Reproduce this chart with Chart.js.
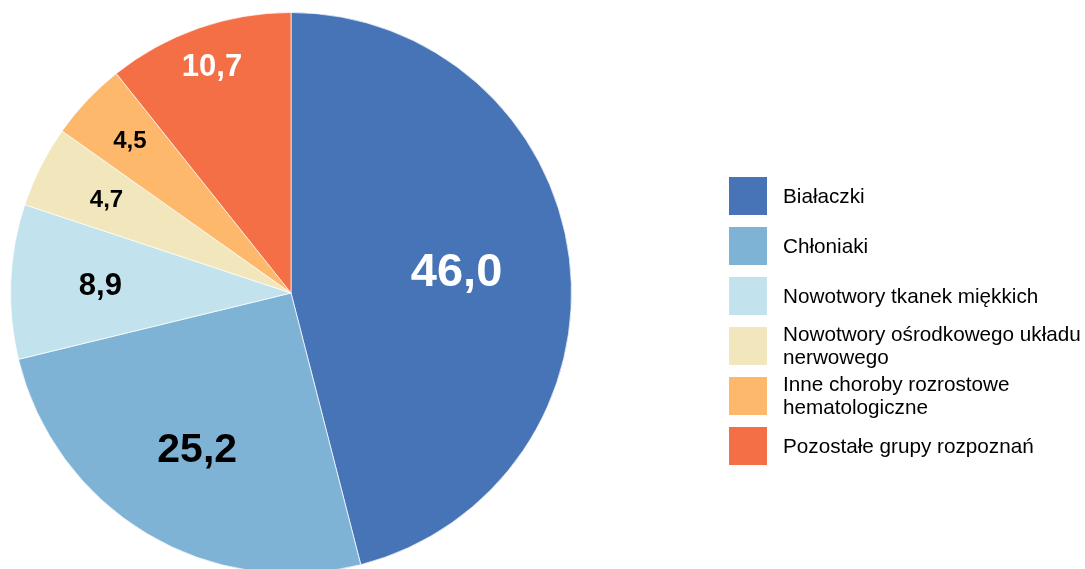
<!DOCTYPE html>
<html>
<head>
<meta charset="utf-8">
<script src="https://cdn.jsdelivr.net/npm/chart.js@4/dist/chart.umd.min.js"></script>
<style>
  html, body { margin: 0; padding: 0; background: #ffffff; }
  #wrap { position: relative; width: 1085px; height: 569px; overflow: hidden; }
  #c { position: absolute; left: 0; top: 0; }
</style>
</head>
<body>
<div id="wrap"><canvas id="c" width="1085" height="600"></canvas></div>
<script>
// ---- data ----
const categories = [
  "Białaczki",
  "Chłoniaki",
  "Nowotwory tkanek miękkich",
  "Nowotwory ośrodkowego układu nerwowego",
  "Inne choroby rozrostowe hematologiczne",
  "Pozostałe grupy rozpoznań"
];
const values = [46.0, 25.2, 8.9, 4.7, 4.5, 10.7];

// ---- styles ----
const sliceColors = ["#4674B7", "#7FB3D5", "#C2E3EE", "#F2E6BD", "#FDB86B", "#F46F45"];
const labelColors = ["#ffffff", "#000000", "#000000", "#000000", "#000000", "#ffffff"];
const labelSizes = [47, 41, 31, 24, 24, 31];
const labelRadiusFrac = [0.595, 0.65, 0.68, 0.737, 0.79, 0.854];

function fmt(v) { return v.toFixed(1).replace('.', ','); }

const sliceLabels = {
  id: 'sliceLabels',
  afterDatasetsDraw(chart) {
    const ctx = chart.ctx;
    const meta = chart.getDatasetMeta(0);
    ctx.save();
    ctx.textAlign = 'center';
    ctx.textBaseline = 'middle';
    meta.data.forEach((arc, i) => {
      const p = arc.getProps(['x', 'y', 'startAngle', 'endAngle', 'outerRadius'], true);
      const mid = (p.startAngle + p.endAngle) / 2;
      const r = p.outerRadius * labelRadiusFrac[i];
      const x = p.x + Math.cos(mid) * r;
      const y = p.y + Math.sin(mid) * r;
      ctx.font = 'bold ' + labelSizes[i] + 'px "Liberation Sans", Arial, sans-serif';
      ctx.fillStyle = labelColors[i];
      ctx.fillText(fmt(values[i]), x, y + 1);
    });
    ctx.restore();
  }
};

const sideLegend = {
  id: 'sideLegend',
  afterDraw(chart) {
    const ctx = chart.ctx;
    const boxX = 729, boxSize = 38, startY = 177, step = 50, textX = 783;
    const maxW = 320, lineH = 22.5;
    ctx.save();
    ctx.font = '20.7px "Liberation Sans", Arial, sans-serif';
    ctx.textBaseline = 'middle';
    ctx.textAlign = 'left';
    chart.data.labels.forEach((lab, i) => {
      const by = startY + i * step;
      ctx.fillStyle = chart.data.datasets[0].backgroundColor[i];
      ctx.fillRect(boxX, by, boxSize, boxSize);
      const words = lab.split(' ');
      const lines = [];
      let cur = '';
      words.forEach(w => {
        const t = cur ? cur + ' ' + w : w;
        if (ctx.measureText(t).width > maxW && cur) { lines.push(cur); cur = w; }
        else cur = t;
      });
      if (cur) lines.push(cur);
      const cy = by + boxSize / 2;
      ctx.fillStyle = '#000000';
      lines.forEach((ln, k) => {
        const y = cy + (k - (lines.length - 1) / 2) * lineH;
        ctx.fillText(ln, textX, y + 1);
      });
    });
    ctx.restore();
  }
};

new Chart(document.getElementById('c'), {
  type: 'pie',
  data: {
    labels: categories,
    datasets: [{
      data: values,
      backgroundColor: sliceColors,
      borderColor: 'rgba(255,255,255,0.7)',
      borderWidth: 1
    }]
  },
  options: {
    responsive: false,
    animation: false,
    layout: { padding: { left: 10, top: 12, right: 513, bottom: 26 } },
    plugins: {
      legend: { display: false },
      tooltip: { enabled: false }
    }
  },
  plugins: [sliceLabels, sideLegend]
});
</script>
</body>
</html>
